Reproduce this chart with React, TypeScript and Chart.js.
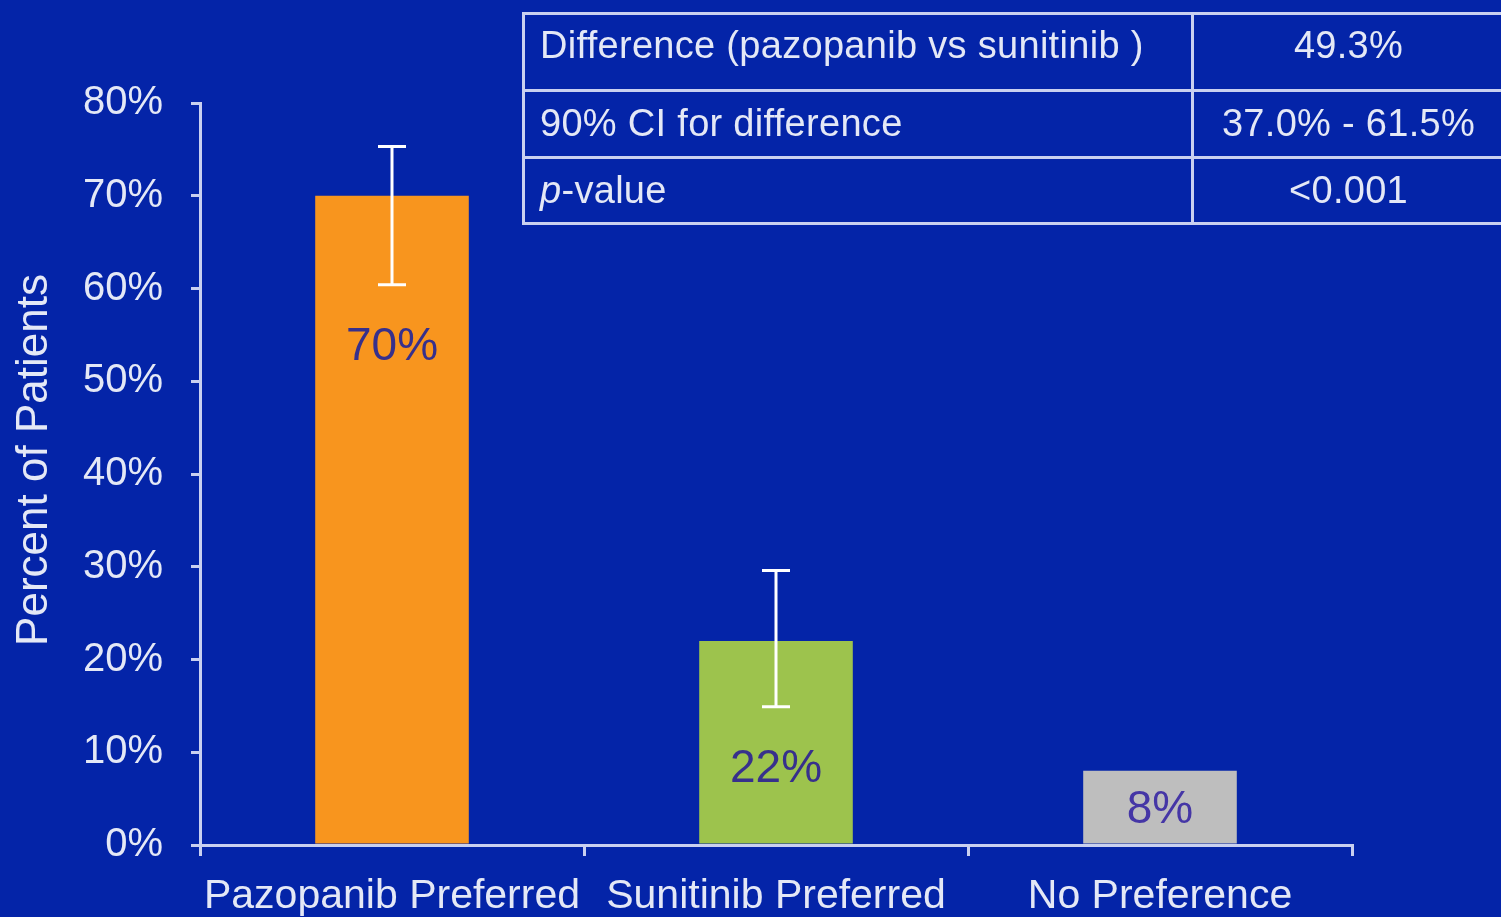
import React, { useEffect, useRef } from "react";
import { Chart, registerables } from "chart.js";

Chart.register(...registerables);

const categories = ["Pazopanib Preferred", "Sunitinib Preferred", "No Preference"];
const values = [70, 22, 8];
const errLow: (number | null)[] = [60.4, 14.9, null];
const errHigh: (number | null)[] = [75.3, 29.6, null];
const valueLabels = ["70%", "22%", "8%"];
const barColors = ["#F8951E", "#9DC34D", "#BEBEBE"];
const yTickValues = [0, 10, 20, 30, 40, 50, 60, 70, 80];
const yTitle = "Percent of Patients";

const tableLabels = ["Difference (pazopanib vs sunitinib )", "90% CI for difference", "-value"];
const tableValues = ["49.3%", "37.0% - 61.5%", "<0.001"];

const BG = "#0424A8";
const FG = "#E4E8F6";
const LINE = "#C9D0F0";
const FONT = "'Liberation Sans', Arial, Helvetica, sans-serif";

const overlayPlugin = {
  id: "overlay",
  beforeDraw(chart: any) {
    const ctx = chart.ctx;
    ctx.save();
    ctx.fillStyle = BG;
    ctx.fillRect(0, 0, chart.width, chart.height);
    ctx.restore();
  },
  afterDraw(chart: any) {
    const ctx = chart.ctx;
    const y = chart.scales.y;
    ctx.save();
    ctx.translate(35, (y.top + y.bottom) / 2 - 14);
    ctx.rotate(-Math.PI / 2);
    ctx.fillStyle = FG;
    ctx.font = `44px ${FONT}`;
    ctx.textAlign = "center";
    ctx.textBaseline = "middle";
    ctx.fillText(yTitle, 0, 0);
    ctx.restore();
  },
  afterDatasetsDraw(chart: any) {
    const ctx = chart.ctx;
    const x = chart.scales.x;
    const y = chart.scales.y;
    ctx.save();
    values.forEach((v, i) => {
      const cx = x.getPixelForValue(i);
      const lo = errLow[i];
      const hi = errHigh[i];
      if (lo !== null && hi !== null) {
        const yl = y.getPixelForValue(lo);
        const yh = y.getPixelForValue(hi);
        ctx.strokeStyle = "#FFFFFF";
        ctx.lineWidth = 3;
        ctx.beginPath();
        ctx.moveTo(cx, yh);
        ctx.lineTo(cx, yl);
        ctx.moveTo(cx - 14, yh);
        ctx.lineTo(cx + 14, yh);
        ctx.moveTo(cx - 14, yl);
        ctx.lineTo(cx + 14, yl);
        ctx.stroke();
      }
      let ly: number;
      if (lo !== null) ly = y.getPixelForValue(lo) + 63;
      else ly = y.getPixelForValue(v) + 40;
      ctx.fillStyle = i === 2 ? "#4536A6" : "#37308C";
      ctx.font = `46px ${FONT}`;
      ctx.textAlign = "center";
      ctx.textBaseline = "middle";
      ctx.fillText(valueLabels[i], cx, ly);
    });
    ctx.restore();
  },
};

export default function App() {
  const ref = useRef<HTMLCanvasElement | null>(null);

  useEffect(() => {
    document.body.style.margin = "0";
    const canvas = ref.current;
    if (!canvas) return;
    const chart = new Chart(canvas, {
      type: "bar",
      data: {
        labels: categories,
        datasets: [
          {
            data: values,
            backgroundColor: barColors,
            borderWidth: 0,
            barPercentage: 0.4,
            categoryPercentage: 1.0,
          },
        ],
      },
      options: {
        animation: false,
        responsive: false,
        devicePixelRatio: 1,
        layout: { padding: { top: 103, right: 149, left: 0, bottom: 0 } },
        plugins: {
          legend: { display: false },
          tooltip: { enabled: false },
        },
        scales: {
          x: {
            offset: true,
            grid: {
              display: true,
              offset: true,
              drawOnChartArea: false,
              drawTicks: true,
              tickLength: 11,
              tickColor: LINE,
              lineWidth: 3,
            },
            border: { display: true, color: LINE, width: 3 },
            ticks: {
              color: FG,
              font: { family: FONT, size: 41 },
              padding: 16,
              maxRotation: 0,
              autoSkip: false,
            },
            afterFit(scale: any) {
              scale.height = 72;
            },
          },
          y: {
            min: 0,
            max: 80,
            afterBuildTicks(scale: any) {
              scale.ticks = yTickValues.map((v) => ({ value: v }));
            },
            grid: {
              display: true,
              drawOnChartArea: false,
              drawTicks: true,
              tickLength: 9,
              tickColor: LINE,
              lineWidth: 3,
            },
            border: { display: true, color: LINE, width: 3 },
            ticks: {
              color: FG,
              font: { family: FONT, size: 40 },
              padding: 28,
              callback: (v: any) => `${v}%`,
            },
            afterFit(scale: any) {
              scale.width = 200;
            },
          },
        },
      },
      plugins: [overlayPlugin],
    });
    return () => chart.destroy();
  }, []);

  const rowTops = [12, 90, 157];
  const textCenters = [45, 123, 190];

  const textStyle = (i: number): React.CSSProperties => ({
    position: "absolute",
    top: textCenters[i] - 22,
    height: 44,
    lineHeight: "44px",
    fontSize: 38,
    color: FG,
    whiteSpace: "pre",
    letterSpacing: "0.3px",
  });

  return (
    <div
      style={{
        position: "fixed",
        left: 0,
        top: 0,
        width: 1501,
        height: 917,
        background: BG,
        overflow: "hidden",
        fontFamily: FONT,
      }}
    >
      <canvas ref={ref} width={1501} height={917} style={{ display: "block" }} />
      <div
        style={{
          position: "absolute",
          left: 522,
          top: 12,
          width: 990,
          height: 213,
          borderTop: `3px solid ${LINE}`,
          borderLeft: `3px solid ${LINE}`,
          borderBottom: `3px solid ${LINE}`,
          boxSizing: "border-box",
        }}
      />
      {rowTops.slice(1).map((t, i) => (
        <div
          key={"h" + i}
          style={{
            position: "absolute",
            left: 522,
            top: t - 1,
            width: 990,
            height: 3,
            background: LINE,
          }}
        />
      ))}
      <div
        style={{
          position: "absolute",
          left: 1191,
          top: 12,
          width: 3,
          height: 213,
          background: LINE,
        }}
      />
      {tableLabels.map((lab, i) => (
        <div key={"l" + i} style={{ ...textStyle(i), left: 540 }}>
          {i === 2 ? (
            <>
              <i>p</i>
              {lab}
            </>
          ) : (
            lab
          )}
        </div>
      ))}
      {tableValues.map((val, i) => (
        <div
          key={"v" + i}
          style={{ ...textStyle(i), left: 1196, width: 305, textAlign: "center" }}
        >
          {val}
        </div>
      ))}
    </div>
  );
}
